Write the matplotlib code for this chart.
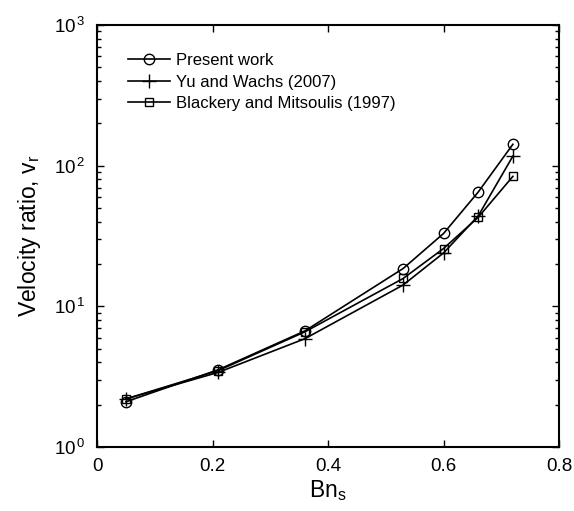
import matplotlib
matplotlib.use('Agg')
import matplotlib.pyplot as plt

# Values
bn_s = [0.05, 0.21, 0.36, 0.53, 0.60, 0.66, 0.72]
present_work = [2.1, 3.55, 6.7, 18.6, 33.0, 65.0, 142.0]
yu_wachs = [2.2, 3.4, 5.9, 14.2, 24.0, 44.0, 117.0]
blackery_mitsoulis = [2.2, 3.5, 6.6, 15.8, 25.8, 43.0, 84.0]
series_labels = ["Present work", "Yu and Wachs (2007)", "Blackery and Mitsoulis (1997)"]
x_ticks = [0, 0.2, 0.4, 0.6, 0.8]
x_tick_labels = ["0", "0.2", "0.4", "0.6", "0.8"]
y_ticks = [1, 10, 100, 1000]
y_tick_labels = ["10$^{\\,0}$", "10$^{\\,1}$", "10$^{\\,2}$", "10$^{\\,3}$"]

plt.rcParams['font.family'] = ['Liberation Sans', 'DejaVu Sans']
plt.rcParams['mathtext.fontset'] = 'custom'
plt.rcParams['mathtext.rm'] = 'Liberation Sans'
plt.rcParams['mathtext.it'] = 'Liberation Sans'
plt.rcParams['mathtext.bf'] = 'Liberation Sans:bold'

fig = plt.figure(figsize=(5.74, 5.11), dpi=100)
ax = fig.add_axes([0.169, 0.125, 0.805, 0.826])

ax.plot(bn_s, present_work, '-o', color='k', lw=1.2, ms=7.5, mfc='none', mew=1.0,
        label=series_labels[0])
ax.plot(bn_s, yu_wachs, '-+', color='k', lw=1.2, ms=10, mew=1.0,
        label=series_labels[1])
ax.plot(bn_s, blackery_mitsoulis, '-s', color='k', lw=1.2, ms=6, mfc='none', mew=1.0,
        label=series_labels[2])

ax.set_yscale('log')
ax.set_xlim(0, 0.8)
ax.set_ylim(1, 1000)
ax.set_xticks(x_ticks)
ax.set_xticklabels(x_tick_labels)
ax.set_yticks(y_ticks)
ax.set_yticklabels(y_tick_labels)

# MATLAB-like box with inward ticks on every side
for side in ax.spines.values():
    side.set_linewidth(1.5)
ax.tick_params(which='both', direction='in', top=True, right=True, labelsize=13.5, width=1.0)
ax.tick_params(which='major', length=5, pad=8)
ax.tick_params(which='minor', length=3)

ax.set_xlabel('Bn$_\\mathregular{s}$', fontsize=16.5, labelpad=2)
ax.set_ylabel('Velocity ratio, v$_\\mathregular{r}$', fontsize=16.5, labelpad=8)

ax.legend(loc='upper left', bbox_to_anchor=(0.067, 0.933), frameon=False, fontsize=12,
          handlelength=2.5, handletextpad=0.4, labelspacing=0.38, borderpad=0,
          borderaxespad=0)

fig.savefig('out.png', dpi=100)
